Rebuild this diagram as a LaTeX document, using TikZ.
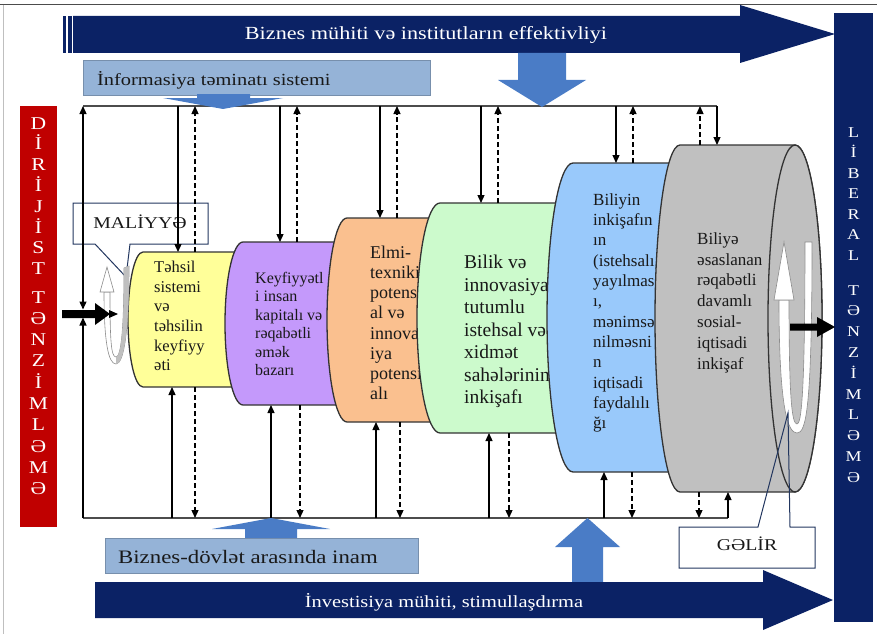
\documentclass[tikz,border=0pt]{standalone}
\usepackage{fontspec}
\setmainfont{Liberation Serif}
\newfontfamily\widefont{Liberation Serif}[FakeStretch=1.2]
\usepackage{tikz}
\usetikzlibrary{arrows.meta}
\definecolor{navyband}{HTML}{0B2265}
\definecolor{dirred}{HTML}{C00000}
\definecolor{boxblue}{HTML}{95B3D7}
\definecolor{blockblue}{HTML}{4A7CC6}
\definecolor{canyellow}{HTML}{FFFF99}
\definecolor{canpurple}{HTML}{C499FB}
\definecolor{canorange}{HTML}{FAC08F}
\definecolor{cangreen}{HTML}{CCFACC}
\definecolor{canblue}{HTML}{99C9FB}
\definecolor{cangrey}{HTML}{C0C0C0}
\definecolor{calloutline}{HTML}{22365F}
\tikzstyle{link} = [draw=black,line width=1.3pt,->]
\tikzstyle{back} = [link,dash pattern=on 5pt off 3pt]
\tikzstyle{can} = [draw=black!80,line width=1.3pt]
\tikzstyle{cantext} = [anchor=north west,inner sep=0pt,align=left,text=black!90]
\tikzstyle{callout} = [draw=calloutline,line width=1pt]

\begin{document}
\begin{tikzpicture}[x=1pt,y=-1pt,>={Triangle[length=8pt,width=7pt]},
  bandtext/.style={text=white,inner sep=0pt,font=\widefont\fontsize{18.5}{20}\selectfont},
  boxtext/.style={text=black!90,inner sep=0pt,font=\widefont\fontsize{17}{19}\selectfont},
  letter/.style={text=white,inner sep=0pt,text height=12pt,text depth=0pt,font=\widefont\fontsize{18}{18}\selectfont},
  rletter/.style={letter,text height=10pt,font=\widefont\fontsize{15}{15}\selectfont}]
\useasboundingbox (0,0) rectangle (881,634);

% frame
\draw[black!70,line width=1pt] (0,5) -- (877,5);
\draw[black!25,line width=1pt] (3.5,5) -- (3.5,634);

% top band
\fill[navyband] (63,16) rectangle (66,53);
\fill[navyband] (68,16) rectangle (72,53);
\fill[navyband] (73,16) -- (740,16) -- (740,5) -- (835,34) -- (740,63) -- (740,53) -- (73,53) -- cycle;
\node[bandtext,anchor=base] (business) at (426,40) {Biznes mühiti və institutların effektivliyi};

% information box
\draw[fill=boxblue,draw=boxblue!80!black] (83,60) rectangle (430,95);
\node[boxtext,anchor=base west] (info) at (97,85) {İnformasiya təminatı sistemi};

% side bands
\fill[dirred] (20,106) rectangle (57,527);
\foreach \l [count=\i from 0] in {D,İ,R,İ,J,İ,S,T}
  \node[letter] (dl\i) at (38.5,123+20.8*\i) {\l};
\foreach \l [count=\i from 0] in {T,Ə,N,Z,İ,M,L,Ə,M,Ə}
  \node[letter] (tl\i) at (38.5,297+21.3*\i) {\l};
\fill[navyband] (834,13) rectangle (873,622);
\foreach \l [count=\i from 0] in {L,İ,B,E,R,A,L}
  \node[rletter] (lr\i) at (853.5,132+20.5*\i) {\l};
\foreach \l [count=\i from 0] in {T,Ə,N,Z,İ,M,L,Ə,M,Ə}
  \node[rletter] (tr\i) at (853.5,290+20.8*\i) {\l};

% frame lines
\coordinate (topL) at (83,106);
\coordinate (topR) at (717,106);
\coordinate (botL) at (83,518);
\coordinate (botR) at (728,518);
\draw[draw=black!70,line width=1.2pt] (topL) -- (topR);
\draw[draw=black!70,line width=1.2pt] (botL) -- (botR);

% blue arrows at the top
\fill[blockblue] (197,94) -- (250,94) -- (250,98) -- (283,98) -- (223,109) -- (163,98) -- (197,98) -- cycle;
\fill[blockblue] (518,53) -- (566,53) -- (566,80) -- (586,80) -- (542,107) -- (498,80) -- (518,80) -- cycle;

% cylinders
\draw[can,fill=canyellow] (143,252) coordinate (topedu) -- (260,252) -- (260,387) -- (143,387) coordinate (botedu)
  arc[start angle=270,end angle=90,x radius=15pt,y radius=67.5pt] -- cycle;
\node[cantext,font=\fontsize{16.5}{19.6}\selectfont] (edutext) at (154,261) {Təhsil\\sistemi\\və\\təhsilin\\keyfiyy\\əti};

\draw[can,fill=canpurple] (243,242) coordinate (tophum) -- (360,242) -- (360,405) -- (243,405) coordinate (bothum)
  arc[start angle=270,end angle=90,x radius=18pt,y radius=81.5pt] -- cycle;
\node[cantext,font=\fontsize{16}{18.5}\selectfont] (humtext) at (255,272) {Keyfiyyətl\\i insan\\kapitalı və\\rəqabətli\\əmək\\bazarı};

\draw[can,fill=canorange] (347,218) coordinate (topsci) -- (460,218) -- (460,422) -- (347,422) coordinate (botsci)
  arc[start angle=270,end angle=90,x radius=20pt,y radius=102pt] -- cycle;
\node[cantext,font=\fontsize{18}{20.2}\selectfont] (scitext) at (370,245.7) {Elmi-\\texniki\\potensi\\al və\\innovas\\iya\\potensi\\alı};

\draw[can,fill=cangreen] (440,203) coordinate (topknow) -- (590,203) -- (590,433) -- (440,433) coordinate (botknow)
  arc[start angle=270,end angle=90,x radius=23pt,y radius=115pt] -- cycle;
\node[cantext,font=\fontsize{19.5}{22.5}\selectfont] (knowtext) at (464,255) {Bilik və\\innovasiya\\tutumlu\\istehsal və\\xidmət\\sahələrinin\\inkişafı};

\draw[can,fill=canblue] (573,163) coordinate (topgain) -- (700,163) -- (700,472) -- (573,472) coordinate (botgain)
  arc[start angle=270,end angle=90,x radius=26pt,y radius=154.5pt] -- cycle;
\node[cantext,font=\fontsize{17}{20.3}\selectfont] (gaintext) at (593,193.4) {Biliyin\\inkişafın\\ın\\(istehsalı,\\yayılmas\\ı,\\mənimsə\\nilməsni\\n\\iqtisadi\\faydalılı\\ğı};

\draw[can,fill=cangrey] (680,145) coordinate (topsoc) -- (795,145)
  arc[start angle=90,end angle=-90,x radius=27pt,y radius=173.5pt] -- (680,492) coordinate (botsoc)
  arc[start angle=270,end angle=90,x radius=25pt,y radius=173.5pt] -- cycle;
\node[cantext,font=\fontsize{17}{20.8}\selectfont] (soctext) at (697,232.4) {Biliyə\\əsaslanan\\rəqabətli\\davamlı\\sosial-\\iqtisadi\\inkişaf};
\draw[can,fill=cangrey] (795,318.5) ellipse[x radius=27pt,y radius=173.5pt];

% loop arrow in the ring
\draw[fill=white,draw=black!45,line width=0.6pt] (779,300) .. controls (779,410) and (788,433) .. (797,433)
  .. controls (806,433) and (812,410) .. (812,242) -- (805,242) .. controls (805,400) and (801,424) .. (797,424)
  .. controls (792,424) and (789,400) .. (789,300) -- cycle;
\draw[fill=white,draw=black!45,line width=0.6pt] (774,300) -- (784,242) -- (794,300) -- cycle;

% MALİYYƏ callout
\fill[white] (73,203) rectangle (208,244);
\draw[callout] (95,244) -- (73,244) -- (73,203) -- (208,203) -- (208,244) -- (130,244) -- (126,277) -- cycle;
\node[boxtext,anchor=base,font=\widefont\fontsize{16.5}{18}\selectfont] (finance) at (140,228) {MALİYYƏ};

% loop arrow by the first cylinder
\draw[fill=white,draw=black!45,line width=0.6pt] (104,292) .. controls (104,340) and (108,364) .. (116,364)
  .. controls (124,364) and (129,330) .. (129,266) -- (124,268) .. controls (124,330) and (121,357) .. (116,357)
  .. controls (111,357) and (110,340) .. (110,292) -- cycle;
\fill[black!25] (116,364) .. controls (124,364) and (129,330) .. (129,266) -- (124,268)
  .. controls (124,330) and (121,357) .. (116,357) -- cycle;
\draw[fill=white,draw=black!45,line width=0.6pt] (100,292) -- (107,267) -- (114,292) -- cycle;

% links between the lines and the cylinders
\foreach \n/\a/\b/\c/\d in {edu/178/195/172/195,hum/280/297/271/300,sci/380/397/376/400,
    know/481/498/489/509,gain/616/633/604/632,soc/717/700/728/699} {
  \draw[link] (\a,0 |- topL) -- (\a,0 |- top\n);
  \draw[back] (\b,0 |- top\n) -- (\b,0 |- topL);
  \draw[link] (\c,0 |- botL) -- (\c,0 |- bot\n);
  \draw[back] (\d,0 |- bot\n) -- (\d,0 |- botL);
}

% regulation arrows
\coordinate (dirtip) at (83,313.5);
\draw[link,<->] (topL) -- ([yshift=4pt]dirtip);
\draw[link] (botL) -- ([yshift=-4pt]dirtip);
\fill[black] (62,310) -- (95,310) -- (95,303) -- (110,314) -- (95,325) -- (95,318) -- (62,318) -- cycle;
\fill[black] (109,310) -- (118,314) -- (109,318) -- cycle;
\fill[black] (790,323.5) -- (817,323.5) -- (817,317) -- (835,327) -- (817,337) -- (817,330.5) -- (790,330.5) -- cycle;

% bottom part
\draw[fill=boxblue,draw=boxblue!80!black] (105,538) rectangle (418,573);
\node[boxtext,anchor=base west,font=\widefont\fontsize{19}{21}\selectfont] (trust) at (118,563) {Biznes-dövlət arasında inam};
\fill[blockblue] (245,538) -- (245,529) -- (212,529) -- (271,518) -- (330,529) -- (297,529) -- (297,538) -- cycle;
\fill[blockblue] (572,582) -- (572,547) -- (555,547) -- (587.5,518) -- (620,547) -- (603,547) -- (603,582) -- cycle;
\fill[navyband] (95,582) -- (763,582) -- (763,570) -- (833,600) -- (763,630) -- (763,618) -- (95,618) -- cycle;
\node[bandtext,anchor=base,font=\widefont\fontsize{17}{19}\selectfont] (invest) at (444,607) {İnvestisiya mühiti, stimullaşdırma};

% GƏLİR callout
\fill[white] (679,527) rectangle (815,568);
\draw[callout] (758,527) -- (679,527) -- (679,568) -- (815,568) -- (815,527) -- (790,527) -- (788,413) -- cycle;
\node[boxtext,anchor=base,font=\widefont\fontsize{16.5}{18}\selectfont] (income) at (747,550) {GƏLİR};
\end{tikzpicture}
\end{document}
